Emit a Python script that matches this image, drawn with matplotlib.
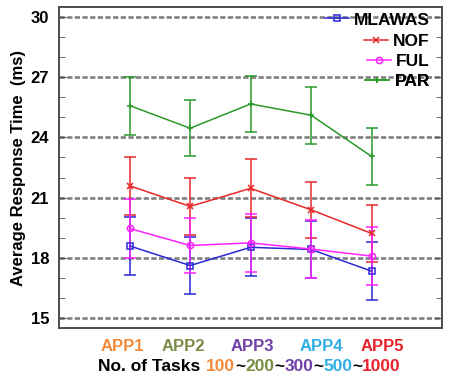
import matplotlib
matplotlib.use('Agg')
import matplotlib.pyplot as plt
from matplotlib.offsetbox import TextArea, HPacker, AnchoredOffsetbox

plt.rcParams['font.family'] = ['Liberation Sans', 'DejaVu Sans']
plt.rcParams['font.weight'] = 'bold'

# data
x = [1, 2, 3, 4, 5]
apps = ['APP1', 'APP2', 'APP3', 'APP4', 'APP5']
app_pos = [0.88, 1.89, 3.03, 4.17, 5.17]
app_colors = ['#f28a3a', '#7a8c45', '#7040a8', '#30aee8', '#e8222a']
task_counts = ['100', '200', '300', '500', '1000']

mlawas = [18.59, 17.61, 18.52, 18.41, 17.33]
mlawas_err = [1.44, 1.44, 1.44, 1.43, 1.44]
nof = [21.59, 20.56, 21.46, 20.39, 19.21]
nof_err = [1.44, 1.41, 1.45, 1.40, 1.43]
ful = [19.46, 18.61, 18.74, 18.43, 18.08]
ful_err = [1.46, 1.39, 1.44, 1.45, 1.44]
par = [25.59, 24.46, 25.67, 25.11, 23.05]
par_err = [1.45, 1.41, 1.40, 1.42, 1.43]

series = [
    ('MLAWAS', mlawas, mlawas_err, '#2a2ad6', 's', 'none'),
    ('NOF', nof, nof_err, '#e82828', 'x', None),
    ('FUL', ful, ful_err, '#ff22ff', 'o', 'none'),
    ('PAR', par, par_err, '#2a9a2a', '+', None),
]

fig = plt.figure(figsize=(4.49, 3.76), dpi=100)
ax = fig.add_axes([0.131, 0.128, 0.853, 0.853])

handles = []
for name, vals, errs, col, mk, mfc in series:
    c = ax.errorbar(x, vals, yerr=errs, color=col, lw=1.1, elinewidth=1.1,
                    capsize=4.3, capthick=1.1, marker=mk, markersize=4.5,
                    mfc=mfc if mfc else col, mec=col, mew=1.1)
    handles.append((c[0], name))

ax.set_xlim(-0.17, 6.16)
ax.set_ylim(14.5, 30.5)
ax.set_yticks([15, 18, 21, 24, 27, 30])
ax.set_yticks(range(15, 31), minor=True)
ax.grid(axis='y', color='0.5', ls=(0, (2.0, 0.9)), lw=1.9)
ax.set_axisbelow(True)

ax.set_xticks(app_pos)
ax.set_xticklabels(apps, fontsize=12, fontweight='bold')
for lab, col in zip(ax.get_xticklabels(), app_colors):
    lab.set_color(col)
ax.tick_params(axis='x', length=0, pad=8)
ax.tick_params(axis='y', which='both', direction='in', right=True, labelsize=12, pad=7)
ax.tick_params(axis='y', which='major', length=5, color='0.3')
ax.tick_params(axis='y', which='minor', length=4, color='0.3')
for s in ax.spines.values():
    s.set_color('0.3')
    s.set_linewidth(1.4)

ax.set_ylabel('Average Response Time  (ms)', fontsize=12, fontweight='bold', labelpad=3)

# legend, one entry per row, right aligned
leg_y = [0.960, 0.894, 0.832, 0.769]
for (h, name), yy in zip(handles, leg_y):
    lg = ax.legend([h], [name], loc='center right', bbox_to_anchor=(0.969, yy),
                   frameon=False, handlelength=1.4, handletextpad=0.3,
                   borderpad=0, borderaxespad=0, prop={'weight': 'bold', 'size': 12.5})
    ax.add_artist(lg)

# "No. of Tasks 100~200~..." line with coloured numbers
fs = 12.5
parts = []
for i, (t, col) in enumerate(zip(task_counts, app_colors)):
    if i > 0:
        parts.append(TextArea('~', textprops=dict(color='black', fontsize=fs, fontweight='bold')))
    parts.append(TextArea(t, textprops=dict(color=col, fontsize=fs, fontweight='bold')))
nums = HPacker(children=parts, sep=0, pad=0, align='baseline')
line = HPacker(children=[TextArea('No. of Tasks', textprops=dict(color='black', fontsize=fs, fontweight='bold')), nums],
               sep=4, pad=0, align='baseline')
box = AnchoredOffsetbox(loc='center', child=line, bbox_to_anchor=(0.556, 0.026),
                        bbox_transform=fig.transFigure, frameon=False, pad=0, borderpad=0)
fig.add_artist(box)

fig.savefig('out.png', dpi=100)
